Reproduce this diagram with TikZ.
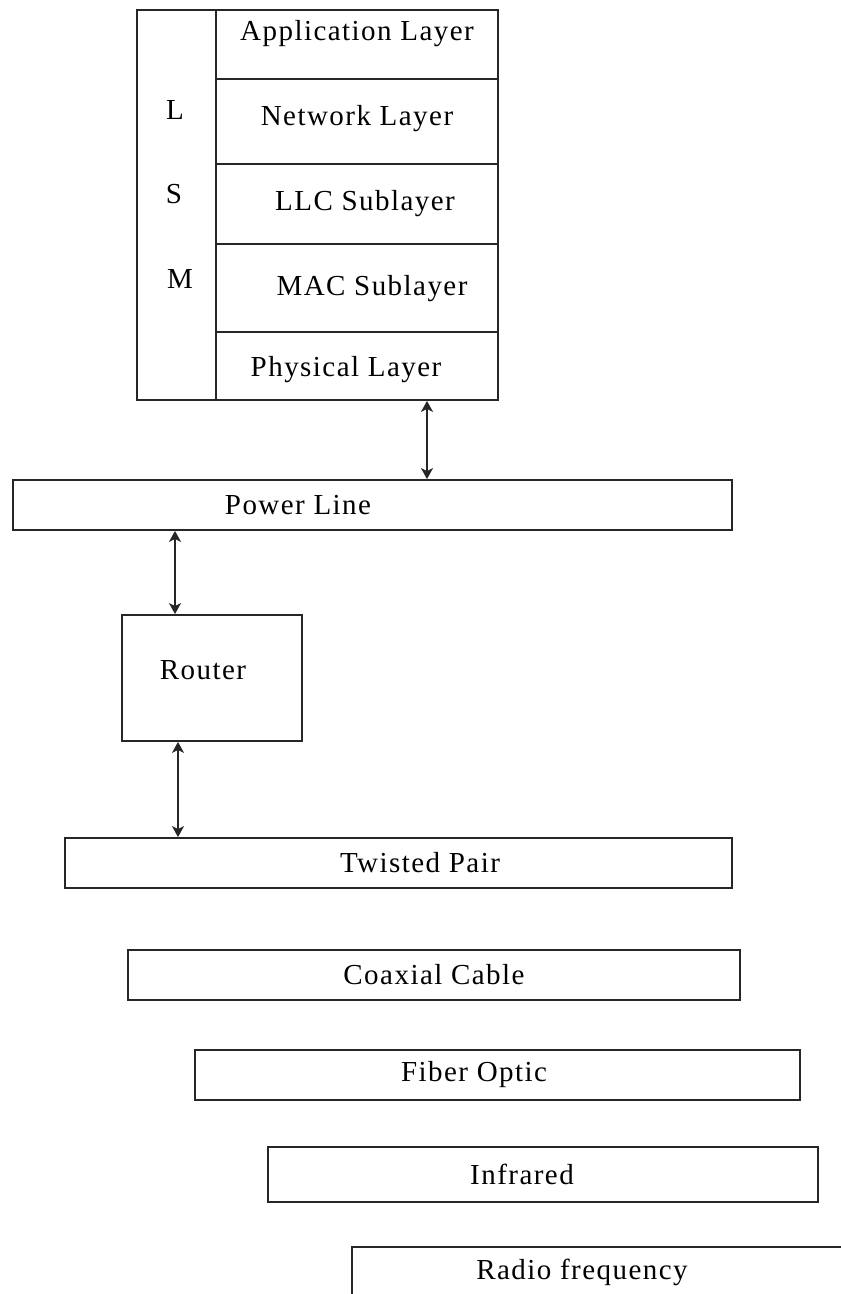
\documentclass[tikz,border=0pt]{standalone}
\usepackage{fontspec}
\setmainfont{Liberation Serif}[LetterSpace=5]
\usetikzlibrary{fit,arrows.meta}
\begin{document}
\begin{tikzpicture}[x=1pt,y=-1pt,
  box/.style={draw=black!85, line width=1.8pt, inner sep=0pt},
  lbl/.style={inner sep=0pt, font=\fontsize{29}{32}\selectfont},
  link/.style={line width=1.4pt, draw=black!85, {Stealth[length=11pt,width=12pt,inset=3pt]}-{Stealth[length=11pt,width=12pt,inset=3pt]}}]
\useasboundingbox[fill=white] (0,0) rectangle (841,1294);
\clip (0,0) rectangle (841,1294);
% protocol stack
\node[box, fit={(137,10) (216,400)}] (lsmcol) {};
\node[box, fit={(216,10) (498,79)}] (app) {};
\node[box, fit={(216,79) (498,164)}] (net) {};
\node[box, fit={(216,164) (498,244)}] (llc) {};
\node[box, fit={(216,244) (498,332)}] (mac) {};
\node[box, fit={(216,332) (498,400)}] (phy) {};
\node[lbl] (tL) at (175,110) {L};
\node[lbl] (tS) at (174,194) {S};
\node[lbl] (tM) at (180,279) {M};
\node[lbl] (tapp) at (357,34) {Application Layer};
\node[lbl] (tnet) at (357,119) {Network Layer};
\node[lbl] (tllc) at (365,204) {LLC Sublayer};
\node[lbl] (tmac) at (372,289) {MAC Sublayer};
\node[lbl] (tphy) at (346,370) {Physical Layer};
% power line
\node[box, fit={(13,480) (732,530)}] (pl) {};
\node[lbl] (tpl) at (298,505) {Power Line};
% router
\node[box, fit={(122,615) (302,741)}] (rt) {};
\node[lbl] (trt) at (203,670) {Router};
% media
\node[box, fit={(65,838) (732,888)}] (tp) {};
\node[lbl] (ttp) at (420,863) {Twisted Pair};
\node[box, fit={(128,950) (740,1000)}] (cx) {};
\node[lbl] (tcx) at (434,975) {Coaxial Cable};
\node[box, fit={(195,1050) (800,1100)}] (fo) {};
\node[lbl] (tfo) at (474,1075) {Fiber Optic};
\node[box, fit={(268,1147) (818,1202)}] (ir) {};
\node[lbl] (tir) at (522,1174) {Infrared};
\node[box, fit={(352,1247) (870,1330)}] (rf) {};
\node[lbl] (trf) at (582,1272) {Radio frequency};
% connectors
\coordinate (a1) at (427,400);
\coordinate (a1b) at (427,480);
\draw[link] (phy.south -| a1) -- (pl.north -| a1b);
\coordinate (a2) at (175,530);
\draw[link] (pl.south -| a2) -- (rt.north -| a2);
\coordinate (a3) at (178,741);
\draw[link] (rt.south -| a3) -- (tp.north -| a3);
\end{tikzpicture}
\end{document}
